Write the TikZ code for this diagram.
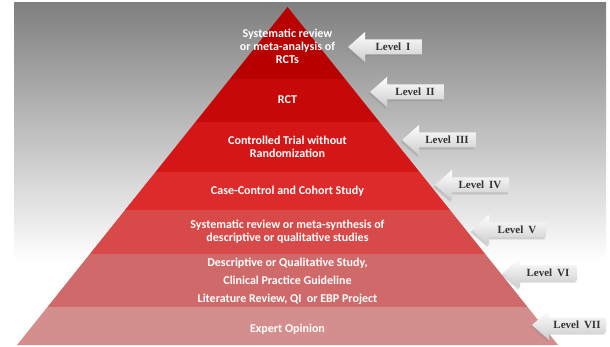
\documentclass[tikz,border=0pt]{standalone}
\usepackage{fontspec}
\setmainfont{Carlito}
\newfontfamily\lvlfont{Liberation Serif}
\definecolor{cA}{HTML}{B80000}
\definecolor{cB}{HTML}{C60808}
\definecolor{cC}{HTML}{D41616}
\definecolor{cD}{HTML}{DD2A2A}
\definecolor{cE}{HTML}{D84A4A}
\definecolor{cF}{HTML}{D06A6A}
\definecolor{cG}{HTML}{D58E8E}
\newcommand\levelarrow[4]{%
  \fill[black!45,opacity=0.35] (#2-1.5,#3+2) -- ++(17,-15) -- ++(0,7.5) -- ++(57,0) -- ++(0,15) -- ++(-57,0) -- ++(0,7.5) -- cycle;
  \path[arrowshape] (#2,#3) -- ++(17,-15) -- ++(0,7.5) -- ++(57,0) -- ++(0,15) -- ++(-57,0) -- ++(0,7.5) -- cycle;
  \node[lvl] (#1) at (#2+45,#3) {#4};
}
\begin{document}
\begin{tikzpicture}[x=1pt,y=-1pt,
  ptext/.style={text=white,font=\bfseries\fontsize{12}{13}\selectfont,align=center,inner sep=0pt},
  lvl/.style={font=\lvlfont\bfseries\fontsize{11}{12}\selectfont,text=black!80,inner sep=0pt},
  arrowshape/.style={top color=white,bottom color=black!20,draw=none}]
\useasboundingbox (0,0) rectangle (610,347);
\shade[top color=black!50,bottom color=white] (14,3) rectangle (606,262);
\coordinate (apex) at (287.5,7);
\coordinate (bl) at (17,345);
\coordinate (br) at (558,345);
\begin{scope}
  \clip (apex) -- (br) -- (bl) -- cycle;
  \fill[cA] (0,0) rectangle (610,79);
  \fill[cB] (0,79) rectangle (610,122);
  \fill[cC] (0,122) rectangle (610,172);
  \fill[cD] (0,172) rectangle (610,210);
  \fill[cE] (0,210) rectangle (610,254);
  \fill[cF] (0,254) rectangle (610,307);
  \fill[cG] (0,307) rectangle (610,346);
\end{scope}
\node[ptext] (t1) at (287.5,46) {Systematic review\\or meta-analysis of\\RCTs};
\node[ptext] (t2) at (287.5,100) {RCT};
\node[ptext] (t3) at (287.5,146.5) {Controlled Trial without\\Randomization};
\node[ptext] (t4) at (287.5,191) {Case-Control and Cohort Study};
\node[ptext] (t5) at (287.5,232) {Systematic review or meta-synthesis of\\descriptive or qualitative studies};
\node[ptext,font=\bfseries\fontsize{12}{18}\selectfont] (t6) at (287.5,281) {Descriptive or Qualitative Study,\\Clinical Practice Guideline\\Literature Review, QI\ \ or EBP Project};
\node[ptext] (t7) at (287.5,329) {Expert Opinion};
\levelarrow{l1}{348}{47}{Level\hspace{0.45em}I}
\levelarrow{l2}{370}{92}{Level\hspace{0.45em}II}
\levelarrow{l3}{402}{140}{Level\hspace{0.45em}III}
\levelarrow{l4}{435}{185}{Level\hspace{0.45em}IV}
\levelarrow{l5}{472}{230}{Level\hspace{0.45em}V}
\levelarrow{l6}{503}{273}{Level\hspace{0.45em}VI}
\levelarrow{l7}{532}{325}{Level\hspace{0.45em}VII}
\end{tikzpicture}
\end{document}
